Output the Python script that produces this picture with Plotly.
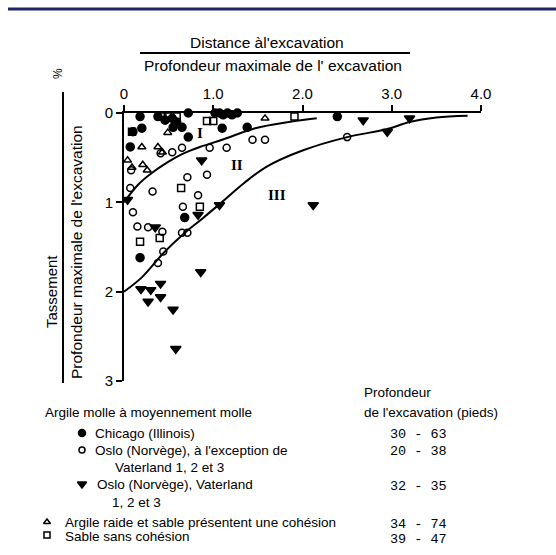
import plotly.graph_objects as go

W, H = 556, 555

# ---- data (ratio distance/depth, settlement % of depth) ----
chicago_x = [0.18, 0.20, 0.10, 0.07, 0.38, 0.46, 0.54, 0.59, 0.55, 0.65, 0.72, 0.72, 1.02, 1.07, 1.11, 1.16, 1.21, 1.27, 1.10, 1.38, 2.39, 0.68, 0.18]
chicago_y = [0.04, 0.17, 0.21, 0.38, 0.04, 0.08, 0.06, 0.10, 0.16, 0.16, 0.00, 0.27, 0.00, 0.00, 0.02, 0.00, 0.02, 0.00, 0.17, 0.16, 0.04, 1.17, 1.62]

oslo_x = [0.08, 0.41, 0.54, 0.65, 0.96, 1.15, 1.44, 1.58, 0.71, 0.93, 0.07, 0.32, 0.83, 0.66, 0.10, 0.15, 0.27, 0.43, 0.65, 0.71, 0.44, 0.38, 2.50]
oslo_y = [0.64, 0.45, 0.44, 0.39, 0.39, 0.39, 0.30, 0.30, 0.72, 0.69, 0.84, 0.88, 0.92, 1.05, 1.11, 1.27, 1.28, 1.33, 1.34, 1.34, 1.55, 1.68, 0.27]

vater_x = [0.04, 0.87, 0.35, 0.83, 1.07, 2.12, 2.68, 2.95, 3.20, 0.19, 0.30, 0.41, 0.27, 0.41, 0.55, 0.86, 0.58]
vater_y = [0.97, 0.53, 1.28, 1.14, 1.03, 1.03, 0.08, 0.21, 0.06, 1.97, 1.98, 1.91, 2.11, 2.06, 2.20, 1.78, 2.64]

stiff_x = [0.20, 0.38, 0.43, 0.04, 0.09, 0.21, 0.26, 0.49, 1.58]
stiff_y = [0.38, 0.38, 0.44, 0.53, 0.61, 0.58, 0.64, 0.22, 0.06]

sand_x = [0.43, 0.49, 0.59, 0.93, 1.00, 0.09, 1.91, 0.64, 0.85, 0.18, 0.40]
sand_y = [0.04, 0.04, 0.04, 0.09, 0.09, 0.21, 0.04, 0.84, 1.05, 1.44, 1.40]

# zone boundaries
curve1_x = [0.0, 0.16, 0.30, 0.49, 0.65, 0.85, 1.10, 1.47, 1.85, 2.16]
curve1_y = [1.0, 0.80, 0.68, 0.55, 0.46, 0.38, 0.30, 0.17, 0.10, 0.06]
curve2_x = [0.0, 0.20, 0.44, 0.66, 0.88, 1.07, 1.35, 1.60, 2.00, 2.50, 2.95, 3.20, 3.50, 3.85]
curve2_y = [2.0, 1.84, 1.57, 1.36, 1.18, 1.02, 0.78, 0.60, 0.42, 0.27, 0.18, 0.10, 0.05, 0.03]

x_ticks = [0, 1, 2, 3, 4]
x_ticktext = ["0", "1.0", "2.0", "3.0", "4.0"]
y_ticks = [0, 1, 2, 3]
y_ticktext = ["0", "1", "2", "3"]

legend_rows = [
    ("Chicago (Illinois)", "30 - 63"),
    ("Oslo (Norvège), à l'exception de", "20 - 38"),
    ("Oslo (Norvège), Vaterland", "32 - 35"),
    ("Argile raide et sable présentent une cohésion", "34 - 74"),
    ("Sable sans cohésion", "39 - 47"),
]

# ---- layout helpers ----
def px(x):
    return x / W

def py(y):
    return 1 - y / H

X0, X1 = 124, 481
Y0, Y1 = 113, 381

FONT = "Liberation Sans"
fig = go.Figure()

def add_pts(xs, ys, symbol, size, color_fill):
    fig.add_trace(go.Scatter(
        x=xs, y=ys, mode="markers", cliponaxis=False, showlegend=False,
        marker=dict(symbol=symbol, size=size, color=color_fill,
                    line=dict(color="black", width=1.5))))

for cx, cy in [(curve1_x, curve1_y), (curve2_x, curve2_y)]:
    fig.add_trace(go.Scatter(x=cx, y=cy, mode="lines", cliponaxis=False, showlegend=False,
                             line=dict(color="black", width=2, shape="spline", smoothing=1.0)))

add_pts(chicago_x, chicago_y, "circle", 8, "black")
add_pts(oslo_x, oslo_y, "circle-open", 7, "black")
add_pts(vater_x, vater_y, "triangle-down", 9, "black")
add_pts(stiff_x, stiff_y, "triangle-up-open", 7, "black")
add_pts(sand_x, sand_y, "square-open", 7, "black")

# legend symbols on a full-figure pixel axis
leg_sym = [("circle", 7, 82, 433), ("circle-open", 6, 82, 450), ("triangle-down", 8, 82, 484),
           ("triangle-up-open", 6, 47, 522), ("square-open", 6, 47, 535)]
for sym, sz, lx, ly in leg_sym:
    fig.add_trace(go.Scatter(x=[lx], y=[ly], xaxis="x2", yaxis="y2", mode="markers",
                             cliponaxis=False, showlegend=False,
                             marker=dict(symbol=sym, size=sz, color="black",
                                         line=dict(color="black", width=1.5))))

fig.update_layout(
    width=W, height=H, margin=dict(l=0, r=0, t=0, b=0),
    paper_bgcolor="white", plot_bgcolor="rgba(0,0,0,0)", template="none",
    font=dict(family=FONT, color="black"),
    xaxis=dict(domain=[px(X0), px(X1)], range=[0, 4], side="top", anchor="y",
               tickvals=x_ticks, ticktext=x_ticktext, ticks="outside", ticklen=6, tickwidth=1.5,
               tickcolor="black", showline=True, linewidth=2, linecolor="black",
               showgrid=False, zeroline=False, automargin=False,
               tickfont=dict(family=FONT, size=15, color="black")),
    yaxis=dict(domain=[py(Y1), py(Y0)], range=[3, 0], anchor="x",
               tickvals=y_ticks, ticktext=y_ticktext, ticks="outside", ticklen=6, tickwidth=1.5,
               tickcolor="black", showline=True, linewidth=2, linecolor="black",
               showgrid=False, zeroline=False, automargin=False,
               tickfont=dict(family=FONT, size=15, color="black")),
    xaxis2=dict(domain=[0, 1], range=[0, W], anchor="y2", visible=False, fixedrange=True),
    yaxis2=dict(domain=[0, 1], range=[H, 0], anchor="x2", visible=False, fixedrange=True),
)

shapes = [
    dict(type="line", xref="paper", yref="paper", x0=px(8), x1=px(556), y0=py(9), y1=py(9),
         line=dict(color="#1f2466", width=3)),
    dict(type="line", xref="paper", yref="paper", x0=px(140), x1=px(410), y0=py(53), y1=py(53),
         line=dict(color="black", width=2)),
    dict(type="line", xref="paper", yref="paper", x0=px(63), x1=px(63), y0=py(92), y1=py(383),
         line=dict(color="black", width=2)),
]
fig.update_layout(shapes=shapes)

ann = []
def T(text, x, y, size=13, xanchor="left", family=FONT, angle=0, **kw):
    ann.append(dict(text=text, x=px(x), y=py(y), xref="paper", yref="paper", showarrow=False,
                    xanchor=xanchor, yanchor="middle", textangle=angle,
                    font=dict(family=family, size=size, color="black"), **kw))

T("Distance àl'excavation", 267, 43, size=15.5, xanchor="center")
T("Profondeur maximale de l' excavation", 273, 65, size=15.5, xanchor="center")
T("%", 58, 74, size=12, xanchor="center", angle=-90)
T("Tassement", 51, 292, size=15, xanchor="center", angle=-90)
T("Profondeur maximale de l'excavation", 76, 252, size=15.5, xanchor="center", angle=-90)

SERIF = "Liberation Serif"
T("<b>I</b>", 200, 133, size=15, xanchor="center", family=SERIF)
T("<b>II</b>", 237, 165, size=15, xanchor="center", family=SERIF)
T("<b>III</b>", 277, 195, size=15, xanchor="center", family=SERIF)

LS = 13.5
T("Argile molle à moyennement molle", 43, 412, size=LS)
T("Profondeur", 362, 392, size=LS)
T("de l'excavation (pieds)", 362, 412, size=LS)

T(legend_rows[0][0], 93, 433, size=LS)
T(legend_rows[1][0], 93, 450, size=LS)
T("Vaterland 1, 2 et 3", 113, 467, size=LS)
T(legend_rows[2][0], 95, 484, size=LS)
T("1, 2 et 3", 110, 502, size=LS)
T(legend_rows[3][0], 63, 522, size=LS)
T(legend_rows[4][0], 63, 536, size=LS)

MONO = "Liberation Mono"
for (lbl, rng), yy in zip(legend_rows, [434, 451, 486, 524, 539]):
    T(rng, 388, yy, size=13.5, family=MONO)

fig.update_layout(annotations=ann)
fig.write_html("out.html")
